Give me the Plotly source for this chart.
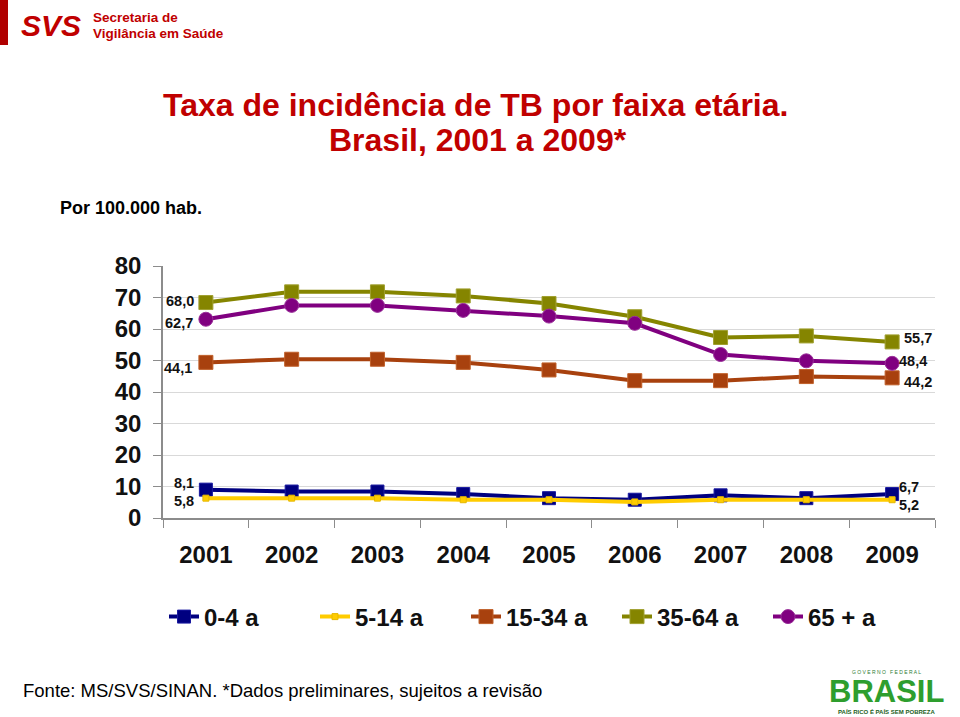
import plotly.graph_objects as go

years = ["2001", "2002", "2003", "2004", "2005", "2006", "2007", "2008", "2009"]
series_names = ["0-4 a", "5-14 a", "15-34 a", "35-64 a", "65 + a"]
v_0_4 = [9.0, 8.4, 8.4, 7.6, 6.3, 5.8, 7.2, 6.3, 7.6]
v_5_14 = [6.3, 6.3, 6.3, 5.8, 5.8, 5.1, 5.8, 5.8, 5.8]
v_15_34 = [49.4, 50.4, 50.4, 49.4, 47.0, 43.6, 43.6, 44.9, 44.5]
v_35_64 = [68.4, 71.8, 71.8, 70.5, 68.1, 63.9, 57.3, 57.8, 55.9]
v_65 = [63.1, 67.5, 67.5, 65.9, 64.1, 61.8, 51.9, 49.9, 49.1]
first_labels = ["8,1", "5,8", "44,1", "68,0", "62,7"]
last_labels = ["6,7", "5,2", "44,2", "55,7", "48,4"]
y_ticks = [0, 10, 20, 30, 40, 50, 60, 70, 80]

values = [v_0_4, v_5_14, v_15_34, v_35_64, v_65]
colors = ["#000080", "#FFCC00", "#A8410E", "#858500", "#800080"]
edges = ["#1A1AA0", "#E6B800", "#C0602A", "#A0A030", "#9A309A"]
symbols = ["square", "square", "square", "square", "circle"]
msizes = [13, 6, 14, 14, 14]

fig = go.Figure()
for name, vals, c, ec, sym, ms in zip(series_names, values, colors, edges, symbols, msizes):
    fig.add_trace(go.Scatter(
        x=years, y=vals, name=name, mode="lines+markers",
        line=dict(color=c, width=4),
        marker=dict(symbol=sym, size=ms, color=c, line=dict(color=ec, width=1)),
    ))

LBL_FONT = dict(family="Liberation Sans, Arial", size=14.5, color="#111111", weight="bold")
# data labels: (xshift, yshift) for first and last points
first_off = [(-10, 7), (-10, -3), (-12, -6), (-10, 2), (-11, -4)]
last_off = [(5, 7), (5, -5), (10, -4), (10, 4), (5, 2)]
last_idx = len(years) - 1
for i, vals in enumerate(values):
    fx, fy = first_off[i]
    fig.add_annotation(x=0, y=vals[0], xref="x", yref="y", text=first_labels[i],
                       showarrow=False, xanchor="right", yanchor="middle",
                       xshift=fx, yshift=fy, font=LBL_FONT)
    lx, ly = last_off[i]
    fig.add_annotation(x=last_idx, y=vals[-1], xref="x", yref="y", text=last_labels[i],
                       showarrow=False, xanchor="left", yanchor="middle",
                       xshift=lx, yshift=ly, font=LBL_FONT)

W, H = 960, 717
L, R, T, B = 163, 25, 266, 199
pw, ph = W - L - R, H - T - B


def px(x):
    return (x - L) / pw


def py(y):
    return (H - B - y) / ph


def ptext(x, y, text, size, color="#000000", bold=False, xanchor="left",
          family="Liberation Sans, Arial"):
    fig.add_annotation(x=px(x), y=py(y), xref="paper", yref="paper", text=text, showarrow=False,
                       xanchor=xanchor, yanchor="middle",
                       font=dict(family=family, size=size, color=color,
                                 weight="bold" if bold else "normal"))


# Title
ptext(475, 105, "Taxa de incidência de TB por faixa etária.", 32, color="#C00000", bold=True,
      xanchor="center")
ptext(478, 140, "Brasil, 2001 a 2009*", 32, color="#C00000", bold=True, xanchor="center")

ptext(58, 208, "Por 100.000 hab.", 18, bold=True)
ptext(21, 690, "Fonte: MS/SVS/SINAN. *Dados preliminares, sujeitos a revisão", 18.5)

# SVS logo
fig.add_shape(type="rect", xref="paper", yref="paper", x0=px(0), x1=px(8), y0=py(0), y1=py(45),
              fillcolor="#B00000", line=dict(width=0))
ptext(19, 25, "<i>SVS</i>", 30, color="#C00000", bold=True)
ptext(91, 17, "Secretaria de", 13.5, color="#C00000", bold=True)
ptext(91, 33, "Vigilância em Saúde", 13.5, color="#C00000", bold=True)

# Brasil logo
ptext(886, 672, "G O V E R N O   F E D E R A L", 5, color="#2E7D32", xanchor="center")
ptext(886, 691, "BRASIL", 31, color="#2E9E2E", bold=True, xanchor="center")
ptext(886, 711, "PAÍS RICO É PAÍS SEM POBREZA", 6, color="#1B5E20", bold=True, xanchor="center")

fig.update_layout(
    width=W, height=H,
    margin=dict(l=L, r=R, t=T, b=B, pad=0),
    paper_bgcolor="white", plot_bgcolor="white",
    font=dict(family="Liberation Sans, Arial", color="#000000"),
    showlegend=True,
    legend=dict(orientation="h", x=px(164), xanchor="left", y=py(617), yanchor="middle",
                font=dict(size=24, weight="bold", color="#111111"),
                entrywidth=106, entrywidthmode="pixels",
                bgcolor="rgba(0,0,0,0)", traceorder="normal"),
    xaxis=dict(type="category", showgrid=False, showline=True, linecolor="#8C8C8C", linewidth=1.5,
               ticks="outside", tickson="boundaries", ticklen=8, tickcolor="#8C8C8C",
               ticklabelstandoff=14,
               tickfont=dict(size=24, weight="bold", color="#111111"), range=[-0.5, 8.5]),
    yaxis=dict(range=[0, 80], tickvals=y_ticks, showgrid=True, gridcolor="#D9D9D9", gridwidth=1,
               showline=True, linecolor="#8C8C8C", linewidth=1.5, ticks="outside", ticklen=8,
               tickcolor="#8C8C8C", zeroline=False, ticklabelstandoff=7,
               tickfont=dict(size=24, weight="bold", color="#111111")),
)

fig.write_html("out.html", config={"displayModeBar": False},
               post_script="document.body.style.margin='0';")
